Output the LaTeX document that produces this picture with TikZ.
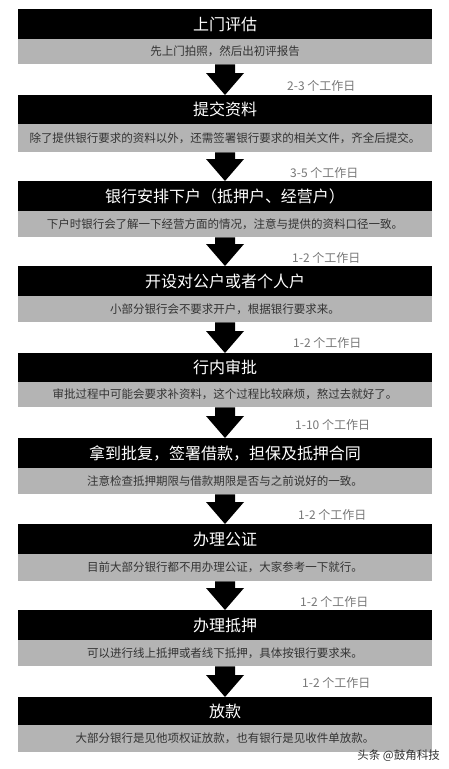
\documentclass[tikz,border=0pt]{standalone}
\usepackage{fontspec}
\setmainfont{Noto Sans CJK SC}
\usetikzlibrary{calc}
\definecolor{boxgray}{HTML}{B4B4B4}
\definecolor{subtext}{HTML}{333333}
\definecolor{daytext}{HTML}{777777}
\tikzset{
  titlebox/.style={fill=black, text=white, minimum width=414pt, minimum height=30pt, inner sep=0pt, anchor=north, font=\fontsize{16}{18}\selectfont},
  notebox/.style={fill=boxgray, text=subtext, minimum width=414pt, anchor=north, inner sep=0pt, font=\fontsize{11.5}{13}\selectfont},
  daylabel/.style={text=daytext, anchor=west, inner sep=0pt, font=\fontsize{12}{14}\selectfont},
  watermarktext/.style={text=subtext, anchor=east, inner sep=0pt, font=\fontsize{11.5}{13}\selectfont}
}
\newcommand{\flowarrow}[2]{%
  \fill let \p1=(#1.south), \p2=(#2.north) in
    (\x1-10pt,\y1) -- (\x1+10pt,\y1) -- (\x1+10pt,\y2+22pt) -- (\x1+19pt,\y2+22pt)
    -- (\x2,\y2) -- (\x1-19pt,\y2+22pt) -- (\x1-10pt,\y2+22pt) -- cycle;}
\begin{document}
\begin{tikzpicture}[x=1pt,y=-1pt]
\useasboundingbox[fill=white] (0,0) rectangle (449,769);
% boxes
\node[titlebox] (t1) at (225,9) {上门评估};
\node[notebox, minimum height=25pt] (g1) at (225,39) {先上门拍照，然后出初评报告};
\node[titlebox, minimum height=29pt] (t2) at (225,95) {提交资料};
\node[notebox, minimum height=28pt] (g2) at (225,124) {除了提供银行要求的资料以外，还需签署银行要求的相关文件，齐全后提交。};
\node[titlebox] (t3) at (225,181) {银行安排下户（抵押户、经营户）};
\node[notebox, minimum height=26pt] (g3) at (225,211) {下户时银行会了解一下经营方面的情况，注意与提供的资料口径一致。};
\node[titlebox] (t4) at (225,266) {开设对公户或者个人户};
\node[notebox, minimum height=26pt] (g4) at (225,296) {小部分银行会不要求开户，根据银行要求来。};
\node[titlebox, minimum height=29pt] (t5) at (225,353) {行内审批};
\node[notebox, minimum height=25pt] (g5) at (225,382) {审批过程中可能会要求补资料，这个过程比较麻烦，熬过去就好了。};
\node[titlebox] (t6) at (225,438) {拿到批复，签署借款，担保及抵押合同};
\node[notebox, minimum height=26pt] (g6) at (225,468) {注意检查抵押期限与借款期限是否与之前说好的一致。};
\node[titlebox] (t7) at (225,524) {办理公证};
\node[notebox, minimum height=27pt] (g7) at (225,554) {目前大部分银行都不用办理公证，大家参考一下就行。};
\node[titlebox] (t8) at (225,610) {办理抵押};
\node[notebox, minimum height=26pt] (g8) at (225,640) {可以进行线上抵押或者线下抵押，具体按银行要求来。};
\node[titlebox, minimum height=28pt] (t9) at (225,697) {放款};
\node[notebox, minimum height=27pt] (g9) at (225,725) {大部分银行是见他项权证放款，也有银行是见收件单放款。};
% arrows
\flowarrow{g1}{t2}
\flowarrow{g2}{t3}
\flowarrow{g3}{t4}
\flowarrow{g4}{t5}
\flowarrow{g5}{t6}
\flowarrow{g6}{t7}
\flowarrow{g7}{t8}
\flowarrow{g8}{t9}
% labels
\node[daylabel] (d1) at (287,86) {2-3 个工作日};
\node[daylabel] (d2) at (290,173) {3-5 个工作日};
\node[daylabel] (d3) at (292,258) {1-2 个工作日};
\node[daylabel] (d4) at (293,343) {1-2 个工作日};
\node[daylabel] (d5) at (295,425) {1-10 个工作日};
\node[daylabel] (d6) at (298,515) {1-2 个工作日};
\node[daylabel] (d7) at (300,602) {1-2 个工作日};
\node[daylabel] (d8) at (302,683) {1-2 个工作日};
% watermark
\node[watermarktext] (wm) at (440,756) {头条 @鼓角科技};
\end{tikzpicture}
\end{document}
